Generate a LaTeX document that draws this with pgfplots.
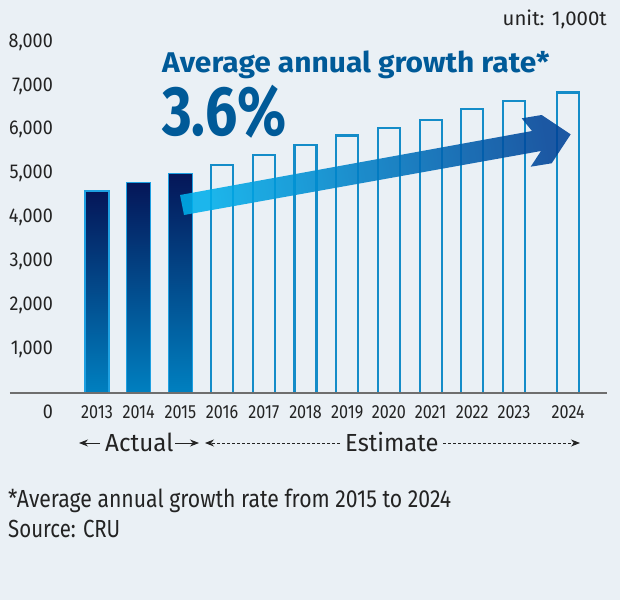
\documentclass[border=0pt]{standalone}
\usepackage{pgfplots}
\pgfplotsset{compat=1.18}
\usepackage{graphicx}
\usepackage{fontspec}
\setmainfont{Fira Sans}
\usetikzlibrary{arrows.meta}
\definecolor{bg}{RGB}{234,240,245}
\definecolor{navy}{RGB}{5,22,88}
\definecolor{barbot}{RGB}{0,128,192}
\definecolor{baredge}{RGB}{30,160,225}
\definecolor{outl}{RGB}{20,140,200}
\definecolor{titleblue}{RGB}{0,90,152}
\definecolor{txt}{RGB}{35,35,35}
\definecolor{arrL}{RGB}{0,175,235}
\definecolor{arrR}{RGB}{0,68,152}
\definecolor{basegray}{RGB}{110,110,110}
\newcommand{\fs}[1]{\fontsize{#1bp}{#1bp}\selectfont}
\newcommand{\yr}[1]{\mbox{\scalebox{0.85}[1]{#1}}}
\newcommand{\yl}[1]{\mbox{\scalebox{0.9}[1]{#1}}}
\begin{document}
\begin{tikzpicture}
\path[use as bounding box, fill=bg] (0,0) rectangle (620bp,-600bp);
\begin{axis}[
  at={(60bp,-393bp)}, anchor=south west,
  scale only axis, width=547bp, height=351bp,
  xmin=-0.887, xmax=12.23, ymin=0, ymax=8000,
  axis line style={draw=none}, clip=false,
  major tick length=0pt,
  ytick={1000,2000,3000,4000,5000,6000,7000,8000},
  yticklabels={\yl{1,000},\yl{2,000},\yl{3,000},\yl{4,000},\yl{5,000},\yl{6,000},\yl{7,000},\yl{8,000}},
  xtick={0,1,2,3,4,5,6,7,8,9,10,11.3},
  xticklabels={\yr{2013},\yr{2014},\yr{2015},\yr{2016},\yr{2017},\yr{2018},\yr{2019},\yr{2020},\yr{2021},\yr{2022},\yr{2023},\yr{2024}},
  y tick label style={inner sep=0pt, anchor=east, xshift=-7bp, font=\fs{20}, text=txt},
  x tick label style={inner sep=0pt, anchor=north, yshift=-12bp, font=\fs{19}, text=txt},
]
\addplot[ybar, bar width=24bp, bar shift=0pt, draw=baredge, line width=1.5bp, top color=navy, bottom color=barbot] coordinates {(0,4600)};
\addplot[ybar, bar width=24bp, bar shift=0pt, draw=baredge, line width=1.5bp, top color=navy, bottom color=barbot] coordinates {(1,4800)};
\addplot[ybar, bar width=24bp, bar shift=0pt, draw=baredge, line width=1.5bp, top color=navy, bottom color=barbot] coordinates {(2,5000)};
\addplot[ybar, bar width=22bp, bar shift=0pt, draw=outl, line width=2.2bp, fill=none] coordinates {(3,5200) (4,5430) (5,5660) (6,5870) (7,6040) (8,6230) (9,6470) (10,6660) (11.3,6850)};
\draw[basegray, line width=2bp] (axis cs:-2.086,0) -- (axis cs:12.23,0);
\end{axis}
\begin{scope}[x=1bp,y=-1bp]
\shade[left color=arrL, right color=arrR, shading angle=100, fill opacity=0.88]
  (180,195) -- (532,131) -- (521.7,118.3) -- (541.7,115) -- (570.7,134.3) -- (551.7,163.3) -- (530.7,166.7) -- (541,151) -- (184,215) -- cycle;
\node[anchor=base east, inner sep=0pt, text=txt, font=\fs{20}] at (607,25) {\scalebox{1.02}[1]{unit: 1,000t}};
\node[anchor=base west, inner sep=0pt, text=titleblue, font=\fs{28.5}\bfseries] at (162,72) {\scalebox{1.05}[1]{Average annual growth rate*}};
\node[anchor=base west, inner sep=0pt, text=titleblue, font=\fs{70}\bfseries] at (162,135) {\scalebox{0.817}[1]{3.6\%}};
\node[anchor=base east, inner sep=0pt, text=txt, font=\fs{20}] at (53,418) {\yl{0}};
\node[anchor=base west, inner sep=0pt, text=txt, font=\fs{24.7}] at (105,451) {\scalebox{0.98}[1]{Actual}};
\node[anchor=base west, inner sep=0pt, text=txt, font=\fs{24.7}] at (345,451) {\scalebox{0.96}[1]{Estimate}};
\draw[txt, line width=0.9bp, -{Stealth[length=9bp,width=7bp]}] (100,443) -- (79,443);
\draw[txt, line width=0.9bp, -{Stealth[length=9bp,width=7bp]}] (175,443) -- (199,443);
\draw[txt, line width=0.9bp, dash pattern=on 3bp off 2bp, -{Stealth[length=9bp,width=7bp]}] (340,443) -- (205,443);
\draw[txt, line width=0.9bp, dash pattern=on 3bp off 2bp, -{Stealth[length=9bp,width=7bp]}] (443,443) -- (580,443);
\node[anchor=base west, inner sep=0pt, text=txt, font=\fs{24.7}] at (8,507) {\scalebox{0.858}[1]{*Average annual growth rate from 2015 to 2024}};
\node[anchor=base west, inner sep=0pt, text=txt, font=\fs{24.7}] at (8,537) {\scalebox{0.827}[1]{Source: CRU}};
\end{scope}
\end{tikzpicture}
\end{document}
